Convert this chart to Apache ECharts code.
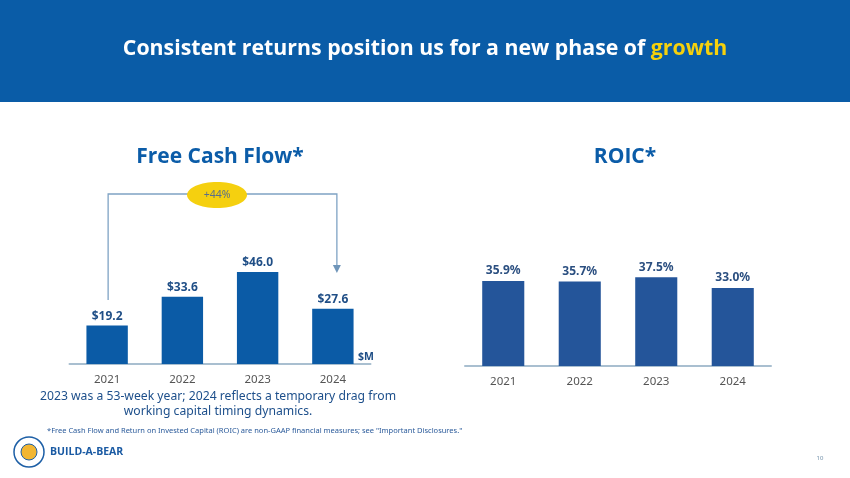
<!DOCTYPE html>
<html><head><meta charset="utf-8">
<script src="https://cdn.jsdelivr.net/npm/echarts@6/dist/echarts.min.js"></script>
<style>html,body{margin:0;padding:0;background:#fff}#c{width:850px;height:478px}</style>
</head><body><div id="c"></div>
<script>
const years = ['2021','2022','2023','2024'];
const fcfValues = [19.2, 33.6, 46.0, 27.6];
const roicValues = [35.9, 35.7, 37.5, 33.0];
const growthLabel = '+44%';

const FONT = 'Noto Sans';
const TFONT = 'Open Sans';
const chart = echarts.init(document.getElementById('c'));
const catAxis = (gi) => ({
  type:'category', data: years, gridIndex: gi,
  axisLine:{lineStyle:{color:'#a9bfd0', width:2}},
  axisTick:{show:false},
  axisLabel:{color:'#555', fontSize:11.5, fontFamily:FONT, margin:10}
});
const valAxis = (gi, max) => ({
  type:'value', gridIndex: gi, min:0, max:max,
  show:false, splitLine:{show:false}
});
chart.setOption({
  animation:false,
  grid:[
    {left:69.5, right:850-370.5, top:204, bottom:114},
    {left:465, right:850-771, top:224, bottom:112}
  ],
  xAxis:[catAxis(0), catAxis(1)],
  yAxis:[valAxis(0,80), valAxis(1,60)],
  series:[
    {type:'bar', xAxisIndex:0, yAxisIndex:0, data:fcfValues, barWidth:'55%',
     itemStyle:{color:'#0b5ba6'},
     label:{show:true, position:'top', distance:3, color:'#1f4e86', fontWeight:'bold', fontSize:12, fontFamily:FONT,
       formatter:p=>'$'+p.value.toFixed(1)}},
    {type:'bar', xAxisIndex:1, yAxisIndex:1, data:roicValues, barWidth:'55%',
     itemStyle:{color:'#24559a'},
     label:{show:true, position:'top', distance:4, color:'#2b4f80', fontWeight:'bold', fontSize:12, fontFamily:FONT,
       formatter:p=>p.value.toFixed(1)+'%'}}
  ]
});

const p0 = chart.convertToPixel({xAxisIndex:0, yAxisIndex:0}, [0, 0]);
const p3 = chart.convertToPixel({xAxisIndex:0, yAxisIndex:0}, [3, 0]);
const x0 = p0[0] + 1, x3 = p3[0] + 4;
const topY = 194;

chart.setOption({
  graphic:[
    {type:'rect', shape:{x:0,y:0,width:850,height:102}, style:{fill:'#0a5ca7'}, z:0},
    {type:'text', left:'center', top:38, style:{
      rich:{w:{fill:'#fff', fontSize:21.3, fontWeight:'bold', fontFamily:TFONT},
            y:{fill:'#f6d10c', fontSize:21.3, fontWeight:'bold', fontFamily:TFONT}},
      text:'{w|Consistent returns position us for a new phase of }{y|growth}'}},
    {type:'text', x:220, y:157, style:{text:'Free Cash Flow*', fill:'#0b5ca8', fontSize:21, fontWeight:'bold', fontFamily:TFONT, textAlign:'center', textVerticalAlign:'middle'}},
    {type:'text', x:625, y:157, style:{text:'ROIC*', fill:'#0b5ca8', fontSize:21, fontWeight:'bold', fontFamily:TFONT, textAlign:'center', textVerticalAlign:'middle'}},
    {type:'polyline', shape:{points:[[x0,300],[x0,topY],[x3,topY],[x3,266]]}, style:{stroke:'#7fa3c4', lineWidth:1.3, fill:null}},
    {type:'polygon', shape:{points:[[x3-4,265],[x3+4,265],[x3,273]]}, style:{fill:'#6f95b9'}},
    {type:'ellipse', shape:{cx:217, cy:195, rx:30, ry:13}, style:{fill:'#f5d00f'}},
    {type:'text', x:217, y:195, style:{text:growthLabel, fill:'#5a6f8a', fontSize:10.5, fontFamily:FONT, textAlign:'center', textVerticalAlign:'middle'}},
    {type:'text', x:366, y:357, style:{text:'$M', fill:'#1f4e86', fontSize:10.5, fontWeight:'bold', fontFamily:FONT, textAlign:'center', textVerticalAlign:'middle'}},
    {type:'text', x:218, y:404, style:{text:'2023 was a 53-week year; 2024 reflects a temporary drag from\nworking capital timing dynamics.', fill:'#1d4f8b', fontSize:12.2, lineHeight:15, fontFamily:FONT, textAlign:'center', textVerticalAlign:'middle'}},
    {type:'text', x:47, y:431, style:{text:'*Free Cash Flow and Return on Invested Capital (ROIC) are non-GAAP financial measures; see "Important Disclosures."', fill:'#2a5a9a', fontSize:7.5, fontFamily:FONT, textVerticalAlign:'middle'}},
    {type:'circle', shape:{cx:29, cy:452, r:15}, style:{fill:'#fff', stroke:'#1d5fa6', lineWidth:1.5}},
    {type:'circle', shape:{cx:29, cy:452, r:8}, style:{fill:'#f2b632', stroke:'#1d5fa6', lineWidth:1}},
    {type:'text', x:50, y:452, style:{text:'BUILD-A-BEAR', fill:'#1a5aa3', fontSize:10.5, fontWeight:'bold', fontFamily:TFONT, textVerticalAlign:'middle'}},
    {type:'text', x:820, y:458, style:{text:'10', fill:'#6f8ea8', fontSize:6, fontFamily:FONT, textAlign:'center', textVerticalAlign:'middle'}}
  ]
});
</script></body></html>
